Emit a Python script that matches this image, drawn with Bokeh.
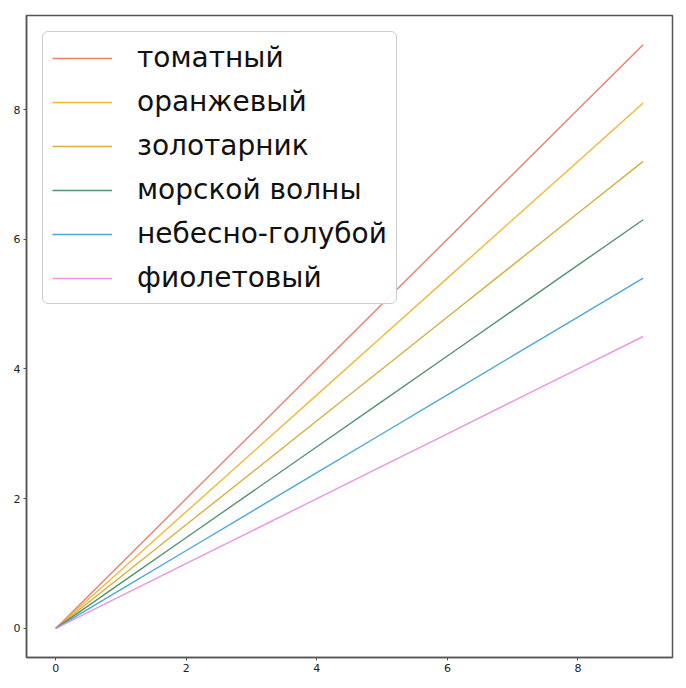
from bokeh.plotting import figure
from bokeh.models import Range1d, FixedTicker, Legend, LegendItem
from bokeh.embed import file_html
from bokeh.resources import INLINE

x_values = [0, 1, 2, 3, 4, 5, 6, 7, 8, 9]
slopes = [1.0, 0.9, 0.8, 0.7, 0.6, 0.5]
labels = ["томатный", "оранжевый", "золотарник", "морской волны", "небесно-голубой", "фиолетовый"]
colors = ["#e8735e", "#f2b020", "#d4a52a", "#3f8a5e", "#3a9fd6", "#e98ae0"]
ticks = [0, 2, 4, 6, 8]

p = figure(width=678, height=680, output_backend="svg", toolbar_location=None,
           x_range=Range1d(-0.45, 9.45), y_range=Range1d(-0.45, 9.45),
           min_border_left=26, min_border_top=15, min_border_right=6, min_border_bottom=23)
p.grid.visible = False
p.outline_line_color = "#555555"
p.outline_line_width = 1.5
p.background_fill_color = "white"
p.border_fill_color = "white"

for ax in (p.xaxis[0], p.yaxis[0]):
    ax.ticker = FixedTicker(ticks=ticks)
    ax.axis_line_color = "#555555"
    ax.axis_line_width = 1.5
    ax.major_tick_line_color = "#555555"
    ax.major_tick_out = 3
    ax.major_tick_in = 0
    ax.minor_tick_line_color = None
    ax.major_label_text_font = "DejaVu Sans"
    ax.major_label_text_font_size = "11px"
    ax.major_label_text_color = "#222222"
    ax.major_label_standoff = 3

items = []
for k, lab, col in zip(slopes, labels, colors):
    ys = [k * xv for xv in x_values]
    r = p.line(x_values, ys, line_color=col, line_width=1.4, line_alpha=0.9)
    items.append(LegendItem(label=lab, renderers=[r]))

legend = Legend(items=items, location="top_left")
legend.label_text_font = "DejaVu Sans"
legend.label_text_font_size = "28px"
legend.label_text_color = "#111111"
legend.glyph_width = 60
legend.glyph_height = 30
legend.label_standoff = 25
legend.spacing = 11
legend.padding = 9
legend.margin = 16
legend.border_line_color = "#cccccc"
legend.border_line_alpha = 1.0
legend.border_radius = 6
legend.background_fill_alpha = 0.9
p.add_layout(legend)

open("out.html", "w").write(file_html(p, INLINE))
